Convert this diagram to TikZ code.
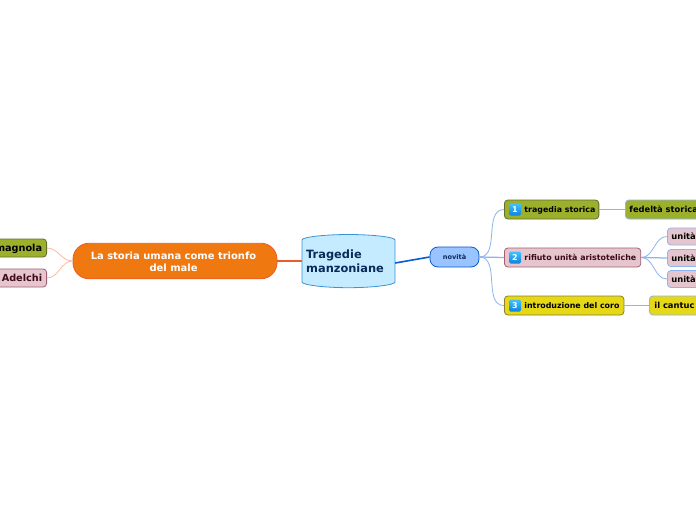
\documentclass[tikz,border=0pt]{standalone}
\usepackage{fontspec}
\setmainfont{DejaVu Sans}
\definecolor{orangef}{HTML}{F07810}
\definecolor{oranged}{HTML}{EC5A28}
\definecolor{salmon}{HTML}{FFB9A0}
\definecolor{cenf}{HTML}{C4EBFF}
\definecolor{cend}{HTML}{3C94D8}
\definecolor{centx}{HTML}{0A2A5A}
\definecolor{novf}{HTML}{99C4FF}
\definecolor{novd}{HTML}{0A5AD0}
\definecolor{link}{HTML}{8DB4EE}
\definecolor{greenf}{HTML}{9DB02C}
\definecolor{greend}{HTML}{5F6F30}
\definecolor{pinkf}{HTML}{E6C6CE}
\definecolor{pinkd}{HTML}{A06070}
\definecolor{pinkt}{HTML}{3C0A18}
\definecolor{yelf}{HTML}{E6D816}
\definecolor{yeld}{HTML}{8A8030}
\definecolor{badgetop}{HTML}{40C4FF}
\definecolor{badgebot}{HTML}{1080E0}
\tikzset{
  x=1pt,y=-1pt,
  box/.style={draw,rounded corners=3.5pt,line width=.8pt,inner xsep=0pt,inner ysep=0pt,font=\fontsize{7.9}{10}\selectfont\bfseries,text=black,minimum height=19pt,text height=7.5pt,text depth=1.5pt,anchor=west},
  greenbox/.style={box,fill=greenf,draw=greend},
  pinkbox/.style={box,fill=pinkf,draw=pinkd,text=pinkt},
  yellowbox/.style={box,fill=yelf,draw=yeld},
  leaf/.style={box,draw=link,font=\fontsize{8.35}{10}\selectfont\bfseries},
  sideleaf/.style={minimum height=18pt,font=\fontsize{9.7}{11}\selectfont\bfseries,text height=8pt,text depth=1.5pt,anchor=east},
  numbadge/.style={top color=badgetop,bottom color=badgebot,draw=none,rounded corners=1.5pt,minimum size=12pt,inner sep=0pt,text=white,font=\fontsize{8}{9}\selectfont\bfseries},
  thin link/.style={color=link,line width=.8pt},
  straight link/.style={color=link,line width=1.25pt},
  salmon link/.style={color=salmon,line width=.8pt},
}
\begin{document}
\begin{tikzpicture}
\useasboundingbox (0,0) rectangle (696,520);
\clip (0,0) rectangle (696,520);
\fill[white] (0,0) rectangle (696,520);
\node[minimum width=93pt,minimum height=54pt,inner sep=0pt] (cen) at (348.5,261) {};
\filldraw[fill=cenf,draw=cend,line width=.8pt] (302,240) .. controls (302,237) and (325,234.5) .. (348.5,234.5) .. controls (372,234.5) and (395,237) .. (395,240) -- (395,282) .. controls (395,285) and (372,287.7) .. (348.5,287.7) .. controls (325,287.7) and (302,285) .. (302,282) -- cycle;
\node[anchor=west,align=left,inner sep=0pt,text=centx,font=\fontsize{11.4}{14}\selectfont\bfseries] (centitle) at (306,261.5) {Tragedie\\manzoniane};
% main branches
\node[draw=oranged,fill=orangef,line width=.8pt,rounded corners=16pt,minimum width=204pt,minimum height=35.5pt,inner sep=0pt] (storia) at (175,261) {};
\node[text=white,align=center,inner sep=0pt,font=\fontsize{9.95}{12}\selectfont\bfseries] (storiat) at (173.5,261.7) {La storia umana come trionfo\\del male};
\node[draw=novd,fill=novf,line width=.8pt,rounded corners=8pt,minimum width=49pt,minimum height=20pt,inner sep=0pt,text=centx,font=\fontsize{6.6}{8}\selectfont\bfseries] (nov) at (454.5,257) {novità};
% left leaves
\node[box,greenbox,sideleaf] (carm) at (47,248) {\hspace*{6pt}magnola\hspace*{4.5pt}};
\node[box,pinkbox,sideleaf] (adel) at (47,278) {\hspace*{6pt}Adelchi\hspace*{4.5pt}};
% right branches
\node[greenbox] (trag) at (504,209.5) {\hspace*{20pt}tragedia storica\hspace*{3.5pt}};
\node[pinkbox] (rif) at (504,257.5) {\hspace*{20pt}rifiuto unità aristoteliche\hspace*{4.5pt}};
\node[yellowbox] (intro) at (504,305.5) {\hspace*{20pt}introduzione del coro\hspace*{4.5pt}};
\node[numbadge] (b1) at (515,209.5) {1};
\node[numbadge] (b2) at (515,257.5) {2};
\node[numbadge] (b3) at (515,305.5) {3};
% right leaves
\node[leaf,fill=greenf] (fed) at (625,209.5) {\hspace*{4pt}fedeltà storica\hspace*{30pt}};
\node[leaf,fill=pinkf,minimum height=17pt] (u1) at (667,236.5) {\hspace*{4pt}unità\hspace*{30pt}};
\node[leaf,fill=pinkf,minimum height=17pt] (u2) at (667,258) {\hspace*{4pt}unità\hspace*{30pt}};
\node[leaf,fill=pinkf,minimum height=17pt] (u3) at (667,279) {\hspace*{4pt}unità\hspace*{30pt}};
\node[leaf,fill=yelf] (can) at (649,305.5) {\hspace*{5pt}il cantuc\hspace*{30pt}};
% connectors
\draw[oranged,line width=1.25pt] (storia.east) -- (cen.west);
\draw[salmon link] (storia.west) to[out=180,in=0] (carm.east);
\draw[salmon link] (storia.west) to[out=180,in=0] (adel.east);
\draw[novd,line width=1.6pt] ([yshift=-2pt]cen.east) -- (nov.west);
\draw[thin link] (nov.east) to[out=0,in=180] (trag.west);
\draw[straight link] (nov.east) -- (rif.west);
\draw[thin link] (nov.east) to[out=0,in=180] (intro.west);
\draw[straight link] (trag.east) -- (fed.west);
\draw[thin link] (rif.east) to[out=0,in=180] (u1.west);
\draw[straight link] (rif.east) -- (u2.west);
\draw[thin link] (rif.east) to[out=0,in=180] (u3.west);
\draw[straight link] (intro.east) -- (can.west);
\end{tikzpicture}
\end{document}
